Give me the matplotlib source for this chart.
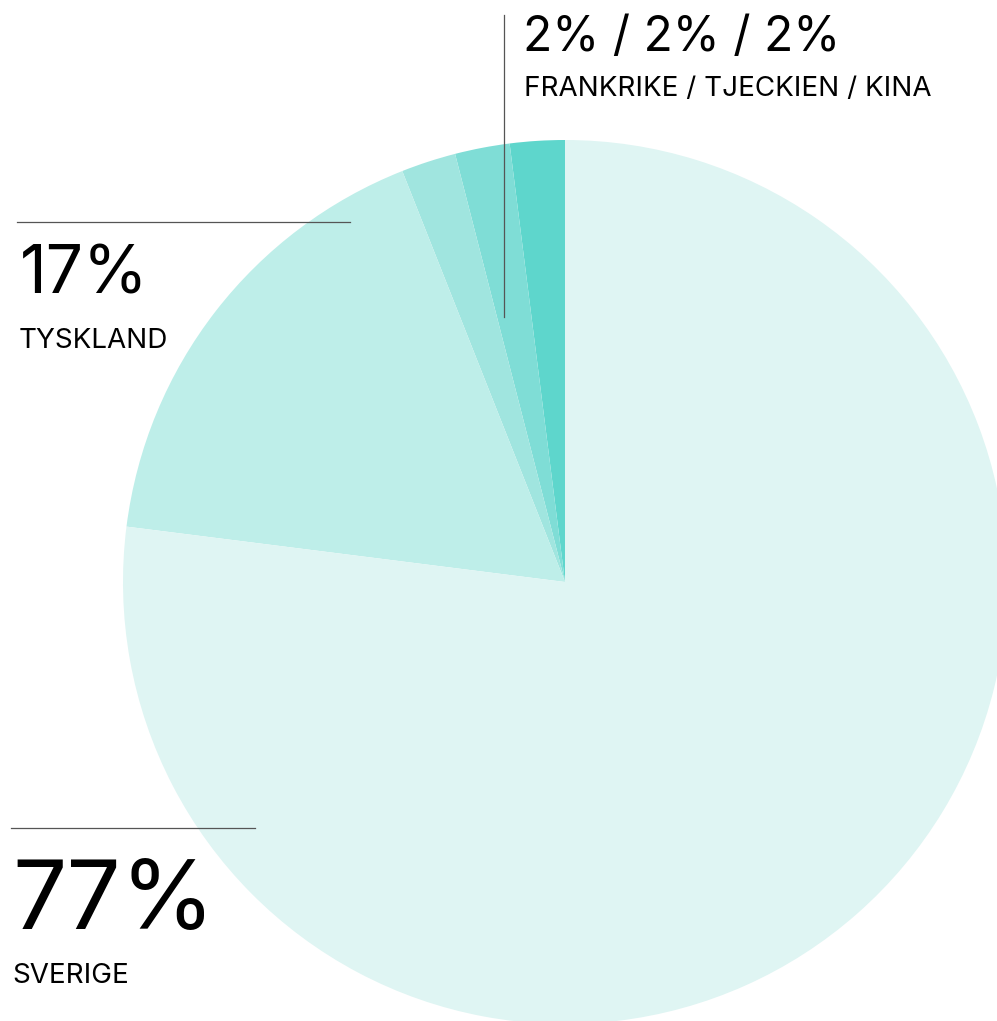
import matplotlib.pyplot as plt

W, H = 997, 1021

# slice shares, counterclockwise from 12 o'clock
countries = ["KINA", "TJECKIEN", "FRANKRIKE", "TYSKLAND", "SVERIGE"]
shares = [2, 2, 2, 17, 77]
colors = ["#5ED6CC", "#7FDDD6", "#A0E5DF", "#BEEEE9", "#DFF5F3"]

# labels as printed on the chart
big_labels = ["77%", "17%", "2% / 2% / 2%"]
small_labels = ["SVERIGE", "TYSKLAND", "FRANKRIKE / TJECKIEN / KINA"]

plt.rcParams["font.family"] = ["Inter", "DejaVu Sans"]


def y(py):
    # pixel row (top-down) -> data y (bottom-up)
    return H - py


fig = plt.figure(figsize=(W / 100, H / 100), dpi=100)
ax = fig.add_axes([0, 0, 1, 1])
ax.pie(shares, colors=colors, startangle=90, counterclock=True,
       center=(565, y(582)), radius=442, wedgeprops=dict(linewidth=0))
ax.set_xlim(0, W)
ax.set_ylim(0, H)
ax.set_aspect("equal")
ax.axis("off")

line_kw = dict(color="#555555", linewidth=0.9)
ax.plot([11, 255], [y(828), y(828)], **line_kw)
ax.plot([17, 350], [y(222), y(222)], **line_kw)
ax.plot([504, 504], [y(15), y(317)], **line_kw)

ax.text(12, y(929), big_labels[0], fontsize=69, va="baseline", ha="left")
ax.text(12, y(983), small_labels[0], fontsize=20, va="baseline", ha="left")
ax.text(20, y(294), big_labels[1], fontsize=47.5, va="baseline", ha="left")
ax.text(19, y(348), small_labels[1], fontsize=20, va="baseline", ha="left")
ax.text(523, y(51), big_labels[2], fontsize=34.5, va="baseline", ha="left")
ax.text(524, y(96), small_labels[2], fontsize=20, va="baseline", ha="left")

fig.savefig("out.png", dpi=100)
